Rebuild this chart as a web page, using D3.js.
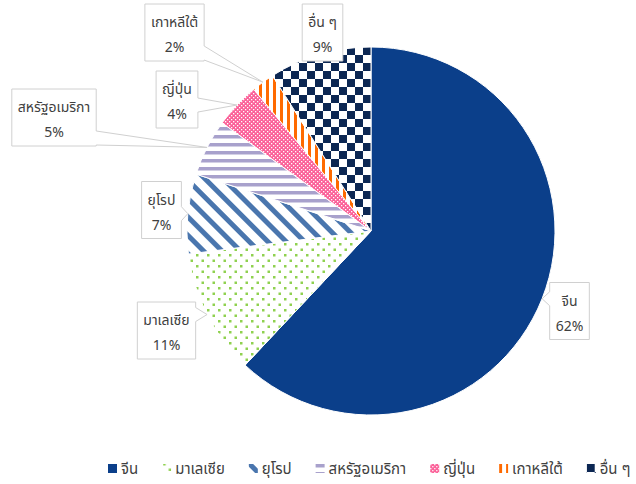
<!DOCTYPE html>
<html>
<head>
<meta charset="utf-8">
<script src="https://cdn.jsdelivr.net/npm/d3@7/dist/d3.min.js"></script>
<style>
html,body{margin:0;padding:0;background:#fff;}
svg{display:block;font-family:"Noto Sans Thai","Leelawadee UI",Tahoma,"Noto Sans","DejaVu Sans",sans-serif;}
</style>
</head>
<body>
<svg id="chart" width="636" height="484"></svg>
<script>
const categories = ["จีน", "มาเลเซีย", "ยุโรป", "สหรัฐอเมริกา", "ญี่ปุ่น", "เกาหลีใต้", "อื่น ๆ"];
const values = [62, 11, 7, 5, 4, 2, 9];
const percentLabels = ["62%", "11%", "7%", "5%", "4%", "2%", "9%"];
const patternIds = ["pChina", "pMalaysia", "pEurope", "pUSA", "pJapan", "pKorea", "pOther"];
// label box centres (layout)
const labelBoxCenters = [[569.5, 311], [166.5, 330.5], [161.5, 210], [54, 117.5], [177, 99.5], [174.5, 32.5], [322.5, 32.5]];

const svg = d3.select("#chart");
const defs = svg.append("defs");

function pat(id, w, h, bg, draw) {
  const p = defs.append("pattern").attr("id", id).attr("patternUnits", "userSpaceOnUse")
    .attr("width", w).attr("height", h);
  p.append("rect").attr("width", w).attr("height", h).attr("fill", bg);
  draw(p);
  return p;
}
pat("pChina", 4, 4, "#0b3f8a", p => {});
pat("pMalaysia", 11, 11, "#ffffff", p => {
  p.append("rect").attr("x", 1).attr("y", 1).attr("width", 2.5).attr("height", 2.5).attr("fill", "#8fd14f");
  p.append("rect").attr("x", 6.5).attr("y", 6.5).attr("width", 2.5).attr("height", 2.5).attr("fill", "#8fd14f");
});
pat("pEurope", 13, 13, "#ffffff", p => {
  p.attr("patternTransform", "rotate(45)");
  p.append("rect").attr("x", 0).attr("y", 0).attr("width", 13).attr("height", 5).attr("fill", "#4a76ae");
});
pat("pUSA", 8, 8, "#ffffff", p => {
  p.append("rect").attr("x", 0).attr("y", 0).attr("width", 8).attr("height", 3.5).attr("fill", "#a8a1cc");
});
pat("pJapan", 4, 4, "#fb6098", p => {
  p.append("rect").attr("x", 0).attr("y", 0).attr("width", 1.3).attr("height", 1.3).attr("fill", "#ffffff");
  p.append("rect").attr("x", 2).attr("y", 2).attr("width", 1.3).attr("height", 1.3).attr("fill", "#ffffff");
});
pat("pKorea", 7, 7, "#ffffff", p => {
  p.append("rect").attr("x", 0).attr("y", 0).attr("width", 3).attr("height", 7).attr("fill", "#ff6a00");
});
pat("pOther", 16, 16, "#ffffff", p => {
  p.append("rect").attr("x", 0).attr("y", 0).attr("width", 8).attr("height", 8).attr("fill", "#0c2753");
  p.append("rect").attr("x", 8).attr("y", 8).attr("width", 8).attr("height", 8).attr("fill", "#0c2753");
});

const cx = 371, cy = 231, r = 184;
const pie = d3.pie().sort(null).value(d => d.v)(values.map((v, i) => ({v, i})));
const arc = d3.arc().innerRadius(0).outerRadius(r);

const g = svg.append("g").attr("transform", `translate(${cx},${cy})`);
g.selectAll("path.slice").data(pie).join("path")
  .attr("class", "slice")
  .attr("d", arc)
  .attr("fill", d => `url(#${patternIds[d.data.i]})`)
  .attr("stroke", "#ffffff").attr("stroke-width", 1);

// Callout labels
const fontSize = 14;
const legendFont = 15;
const tmp = svg.append("text").attr("visibility", "hidden");
function textW(s, fs) { tmp.attr("font-size", fs).text(s); return tmp.node().getComputedTextLength(); }

const labels = svg.append("g");
pie.forEach(d => {
  const i = d.data.i;
  const mid = (d.startAngle + d.endAngle) / 2;
  const tx = cx + Math.sin(mid) * r, ty = cy - Math.cos(mid) * r;
  const w = Math.max(textW(categories[i], fontSize), textW(percentLabels[i], fontSize)) + 12;
  const h = 57;
  const [bcx, bcy] = labelBoxCenters[i];
  const x0 = bcx - w / 2, y0 = bcy - h / 2, x1 = x0 + w, y1 = y0 + h;
  const hw = 7;
  let pts;
  const clamp = (v, a, b) => Math.max(a, Math.min(b, v));
  if (tx > x1 + 2) {
    const c = clamp(ty, y0 + hw + 1, y1 - hw - 1);
    pts = [[x0, y0], [x1, y0], [x1, c - hw], [tx, ty], [x1, c + hw], [x1, y1], [x0, y1]];
  } else if (tx < x0 - 2) {
    const c = clamp(ty, y0 + hw + 1, y1 - hw - 1);
    pts = [[x0, y0], [x1, y0], [x1, y1], [x0, y1], [x0, c + hw], [tx, ty], [x0, c - hw]];
  } else if (ty > y1) {
    const c = clamp(tx, x0 + hw + 1, x1 - hw - 1);
    pts = [[x0, y0], [x1, y0], [x1, y1], [c + hw, y1], [tx, ty], [c - hw, y1], [x0, y1]];
  } else {
    pts = [[x0, y0], [x1, y0], [x1, y1], [x0, y1]];
  }
  labels.append("path")
    .attr("d", d3.line()(pts) + "Z")
    .attr("fill", "#ffffff").attr("stroke", "#d0d0d0").attr("stroke-width", 1);
  labels.append("text").attr("x", bcx).attr("y", y0 + 23).attr("text-anchor", "middle")
    .attr("font-size", fontSize).attr("fill", "#404040").text(categories[i]);
  labels.append("text").attr("x", bcx).attr("y", y0 + 48).attr("text-anchor", "middle")
    .attr("font-size", fontSize).attr("fill", "#404040").text(percentLabels[i]);
});

// Legend
const legend = svg.append("g");
const legendY = 469;
const items = [];
categories.forEach((c, i) => {
  const it = legend.append("g");
  it.append("rect").attr("x", 0).attr("y", legendY - 5).attr("width", 9).attr("height", 9)
    .attr("fill", `url(#${patternIds[i]})`);
  it.append("text").attr("x", 13).attr("y", legendY + 5).attr("font-size", legendFont)
    .attr("fill", "#404040").text(c);
  items.push({it, w: 13 + textW(c, legendFont)});
});
const gap = 24;
let lx = 108;
items.forEach(d => { d.it.attr("transform", `translate(${lx},0)`); lx += d.w + gap; });
tmp.remove();
</script>
</body>
</html>
